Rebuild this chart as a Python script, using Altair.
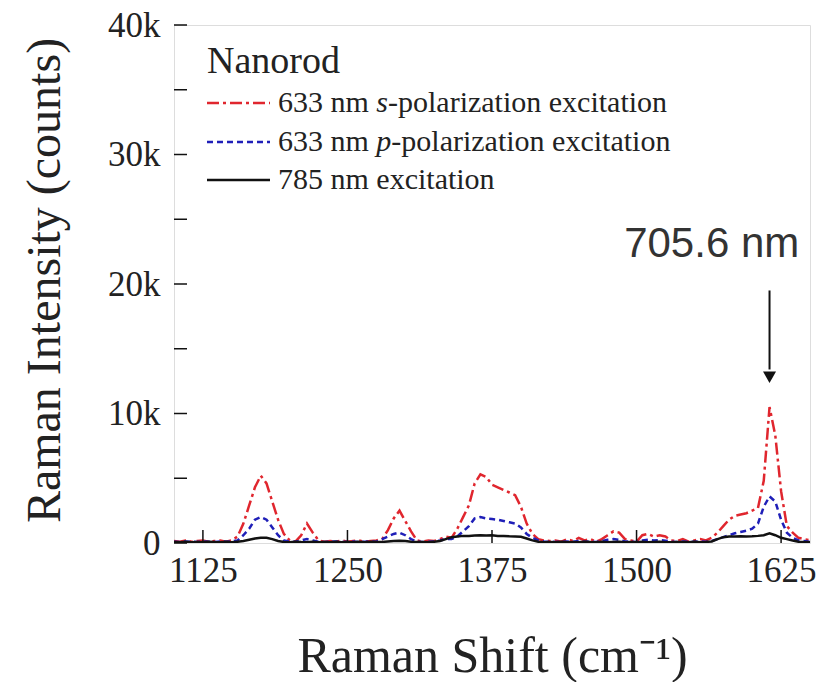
import altair as alt
import pandas as pd

# ---------------- data ----------------
shift = list(range(1100, 1651, 5))  # Raman shift grid (cm-1)

# intensities in thousands of counts
s_pol = [
    0.15, 0.10, 0.20, 0.10, 0.15, 0.20, 0.10, 0.15, 0.20, 0.10,
    0.20, 0.50, 1.50, 2.90, 4.30, 5.20, 4.60, 3.20, 1.80, 0.70,
    0.20, 0.10, 0.60, 1.50, 0.80, 0.20, 0.10, 0.15, 0.10, 0.20,
    0.10, 0.15, 0.20, 0.10, 0.15, 0.20, 0.30, 1.00, 1.90, 2.50,
    1.70, 0.90, 0.20, 0.10, 0.20, 0.15, 0.30, 0.50, 0.40, 1.10,
    2.00, 2.90, 4.60, 5.30, 5.10, 4.50, 4.30, 4.10, 3.90, 3.70,
    2.80, 1.50, 0.70, 0.30, 0.20, 0.15, 0.20, 0.10, 0.30, 0.15,
    0.40, 0.20, 0.30, 0.10, 0.30, 0.60, 0.90, 0.80, 0.30, 0.20,
    0.10, 0.60, 0.70, 0.50, 0.60, 0.50, 0.20, 0.15, 0.30, 0.10,
    0.20, 0.30, 0.20, 0.40, 0.80, 1.30, 1.80, 2.10, 2.20, 2.30,
    2.50, 2.70, 4.80, 10.50, 8.30, 4.00, 1.30, 0.80, 0.40, 0.30,
    0.20,
]
p_pol = [
    0.10, 0.08, 0.12, 0.10, 0.08, 0.12, 0.10, 0.08, 0.12, 0.10,
    0.12, 0.20, 0.60, 1.10, 1.80, 2.00, 1.80, 1.20, 0.60, 0.20,
    0.10, 0.10, 0.20, 0.30, 0.20, 0.10, 0.08, 0.10, 0.12, 0.08,
    0.10, 0.12, 0.08, 0.10, 0.12, 0.10, 0.30, 0.50, 0.70, 0.80,
    0.60, 0.30, 0.10, 0.08, 0.10, 0.12, 0.20, 0.30, 0.30, 0.50,
    0.90, 1.30, 1.90, 2.00, 1.90, 1.85, 1.80, 1.70, 1.60, 1.50,
    1.20, 0.70, 0.40, 0.20, 0.12, 0.10, 0.08, 0.10, 0.12, 0.10,
    0.15, 0.10, 0.12, 0.08, 0.15, 0.25, 0.30, 0.25, 0.12, 0.10,
    0.08, 0.20, 0.25, 0.20, 0.22, 0.18, 0.10, 0.08, 0.12, 0.10,
    0.10, 0.12, 0.10, 0.15, 0.30, 0.45, 0.60, 0.75, 0.85, 0.95,
    1.10, 1.50, 2.80, 3.60, 3.20, 1.80, 0.80, 0.40, 0.20, 0.15,
    0.10,
]
nir = [
    0.08, 0.05, 0.10, 0.06, 0.08, 0.05, 0.10, 0.07, 0.05, 0.09,
    0.06, 0.10, 0.15, 0.25, 0.35, 0.40, 0.40, 0.30, 0.15, 0.08,
    0.06, 0.10, 0.07, 0.05, 0.09, 0.06, 0.08, 0.05, 0.10, 0.06,
    0.08, 0.05, 0.09, 0.06, 0.10, 0.07, 0.08, 0.12, 0.15, 0.18,
    0.15, 0.10, 0.07, 0.08, 0.06, 0.10, 0.15, 0.30, 0.45, 0.50,
    0.55, 0.55, 0.58, 0.60, 0.58, 0.60, 0.55, 0.55, 0.52, 0.50,
    0.48, 0.35, 0.20, 0.10, 0.06, 0.08, 0.05, 0.09, 0.06, 0.08,
    0.05, 0.10, 0.07, 0.06, 0.09, 0.05, 0.08, 0.10, 0.06, 0.07,
    0.05, 0.09, 0.06, 0.08, 0.10, 0.06, 0.05, 0.08, 0.07, 0.06,
    0.09, 0.05, 0.08, 0.12, 0.30, 0.45, 0.50, 0.50, 0.52, 0.50,
    0.52, 0.55, 0.60, 0.75, 0.60, 0.40, 0.30, 0.20, 0.10, 0.08,
    0.06,
]

x_ticks = [1125, 1250, 1375, 1500, 1625]
y_ticks = [0, 10, 20, 30, 40]
y_minor = [0, 5, 10, 15, 20, 25, 30, 35, 40]

annot_label = "705.6 nm"
annot_x = 1565
annot_y = 23.1
arrow_x = 1615
arrow_top = 19.5
arrow_bottom = 13.4
arrow_tip = 12.8

RED = "#e0262e"
BLUE = "#1f1fb8"
BLACK = "#111111"
SERIF = "Liberation Serif"

W, H = 636, 518

df = pd.DataFrame({
    "x": shift * 3,
    "y": s_pol + p_pol + nir,
    "series": ["s"] * len(shift) + ["p"] * len(shift) + ["nir"] * len(shift),
})

xscale = alt.Scale(domain=[1100, 1650], nice=False, zero=False)
yscale = alt.Scale(domain=[0, 40], nice=False, zero=False)

x_axis = alt.Axis(
    values=x_ticks, format="d", ticks=False, domain=False, grid=False,
    labelFont=SERIF, labelFontSize=35, labelColor="#222", labelPadding=10,
    title="Raman Shift (cm\u207b\u00b9)", titleFont=SERIF, titleFontSize=50,
    titleFontWeight="normal", titleColor="#222",
    titleX=W / 2, titleY=128, titleBaseline="alphabetic", titleAnchor="middle",
)
y_axis = alt.Axis(
    values=y_ticks, ticks=False, domain=False, grid=False,
    labelExpr="datum.value == 0 ? '0' : datum.value + 'k'",
    labelFont=SERIF, labelFontSize=35, labelColor="#222", labelPadding=14,
    title="Raman Intensity (counts)", titleFont=SERIF, titleFontSize=48,
    titleFontWeight="normal", titleColor="#222",
    titleX=-129, titleY=255, titleAngle=270, titleBaseline="middle", titleAnchor="middle",
)


def series_line(key, color, dash):
    kw = dict(color=color, strokeWidth=2.5, clip=True)
    if dash:
        kw["strokeDash"] = dash
    return alt.Chart(df).transform_filter(alt.datum.series == key).mark_line(**kw).encode(
        x=alt.X("x:Q", scale=xscale, axis=x_axis),
        y=alt.Y("y:Q", scale=yscale, axis=y_axis),
    )


line_s = series_line("s", RED, [12, 4, 3, 4])
line_p = series_line("p", BLUE, [6, 4])
line_n = series_line("nir", BLACK, None)

# inward ticks
xt = alt.Chart(pd.DataFrame({"x": x_ticks})).mark_rule(color=BLACK, strokeWidth=1.5).encode(
    x=alt.X("x:Q", scale=xscale), y=alt.value(H), y2=alt.value(H - 13)
)
yt = alt.Chart(pd.DataFrame({"y": y_minor})).mark_rule(color=BLACK, strokeWidth=1.5).encode(
    y=alt.Y("y:Q", scale=yscale), x=alt.value(0), x2=alt.value(13)
)

# annotation
ann_df = pd.DataFrame({"x": [annot_x], "y": [annot_y], "t": [annot_label]})
ann = alt.Chart(ann_df).mark_text(
    font="Liberation Sans", fontSize=42, color="#333", align="center", baseline="middle"
).encode(x=alt.X("x:Q", scale=xscale), y=alt.Y("y:Q", scale=yscale), text="t:N")

arr_df = pd.DataFrame({"x": [arrow_x], "y": [arrow_top], "y2": [arrow_bottom], "tip": [arrow_tip]})
arrow_shaft = alt.Chart(arr_df).mark_rule(color=BLACK, strokeWidth=2).encode(
    x=alt.X("x:Q", scale=xscale), y=alt.Y("y:Q", scale=yscale), y2="y2:Q"
)
arrow_head = alt.Chart(arr_df).mark_point(
    shape="triangle-down", filled=True, color=BLACK, size=170, opacity=1
).encode(x=alt.X("x:Q", scale=xscale), y=alt.Y("tip:Q", scale=yscale))

# manual legend
one = pd.DataFrame({"a": [0]})
LX0, LX1, TX = 33, 96, 104
rows = [78, 117, 155]
FS = 30


def leg_line(ypix, color, dash):
    kw = dict(color=color, strokeWidth=2.5)
    if dash:
        kw["strokeDash"] = dash
    return alt.Chart(one).mark_rule(**kw).encode(
        x=alt.value(LX0), x2=alt.value(LX1), y=alt.value(ypix)
    )


def leg_text(txt, xpix, ypix, style="normal", size=FS):
    return alt.Chart(one).mark_text(
        text=txt, font=SERIF, fontSize=size, fontStyle=style, color="#222",
        align="left", baseline="middle"
    ).encode(x=alt.value(xpix), y=alt.value(ypix))


w_633 = 3.278 * FS
legend = [
    leg_text("Nanorod", LX0, 37, size=38),
    leg_line(rows[0], RED, [12, 4, 3, 4]),
    leg_line(rows[1], BLUE, [6, 4]),
    leg_line(rows[2], BLACK, None),
    leg_text("633 nm", TX, rows[0]),
    leg_text("s", TX + w_633, rows[0], "italic"),
    leg_text("-polarization excitation", TX + w_633 + 0.389 * FS, rows[0]),
    leg_text("633 nm", TX, rows[1]),
    leg_text("p", TX + w_633, rows[1], "italic"),
    leg_text("-polarization excitation", TX + w_633 + 0.5 * FS, rows[1]),
    leg_text("785 nm excitation", TX, rows[2]),
]

chart = alt.layer(
    line_s, line_p, line_n, xt, yt, arrow_shaft, arrow_head, ann, *legend
).properties(
    width=W, height=H,
    autosize=alt.AutoSizeParams(type="none"),
    padding={"left": 174, "top": 25, "right": 11, "bottom": 139},
).configure_view(
    stroke=BLACK, strokeWidth=1.5
).configure(background="white")

chart.save("out.html", embed_options={"renderer": "svg", "actions": False})
